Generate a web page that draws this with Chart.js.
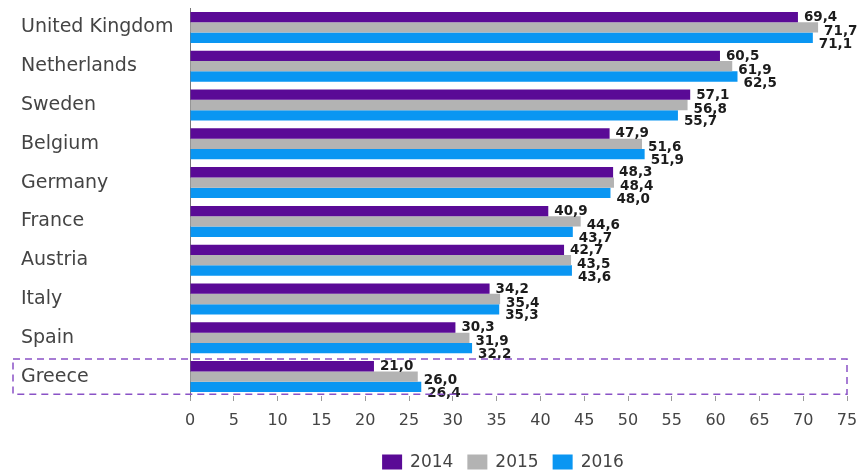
<!DOCTYPE html>
<html>
<head>
<meta charset="utf-8">
<script src="https://cdn.jsdelivr.net/npm/chart.js@4.4.1/dist/chart.umd.min.js"></script>
<style>
  html, body { margin: 0; padding: 0; background: #ffffff; }
  #wrap { width: 857px; height: 473px; position: relative; }
</style>
</head>
<body>
<div id="wrap"><canvas id="chart" width="857" height="473"></canvas></div>
<script>
// Countries, top to bottom
const categories = ['United Kingdom', 'Netherlands', 'Sweden', 'Belgium', 'Germany',
                    'France', 'Austria', 'Italy', 'Spain', 'Greece'];
// Series values per year
const values2014 = [69.4, 60.5, 57.1, 47.9, 48.3, 40.9, 42.7, 34.2, 30.3, 21.0];
const values2015 = [71.7, 61.9, 56.8, 51.6, 48.4, 44.6, 43.5, 35.4, 31.9, 26.0];
const values2016 = [71.1, 62.5, 55.7, 51.9, 48.0, 43.7, 43.6, 35.3, 32.2, 26.4];
const seriesLabels = ['2014', '2015', '2016'];
// Value axis ticks
const xTicks = [0, 5, 10, 15, 20, 25, 30, 35, 40, 45, 50, 55, 60, 65, 70, 75];
// Highlighted country
const highlighted = 'Greece';

const colors = ['#5a0a96', '#b3b3b3', '#0a96f2'];
const textColor = '#444444';
const family = '"DejaVu Sans", sans-serif';

const fmt = v => v.toFixed(1).replace('.', ',');

// Value labels next to each bar end, drifting slightly downward per series
const valueLabels = {
  id: 'valueLabels',
  afterDatasetsDraw(chart) {
    const ctx = chart.ctx;
    const drift = [0.5, 4, 6.5];
    ctx.save();
    ctx.font = 'bold 13.5px ' + family;
    ctx.fillStyle = '#1c1c1c';
    ctx.textAlign = 'left';
    ctx.textBaseline = 'middle';
    chart.data.datasets.forEach((ds, di) => {
      const meta = chart.getDatasetMeta(di);
      meta.data.forEach((bar, i) => {
        ctx.fillText(fmt(ds.data[i]), bar.x + 6, bar.y + drift[di]);
      });
    });
    ctx.restore();
  }
};

// Dashed frame around the highlighted row
const highlightBox = {
  id: 'highlightBox',
  afterDraw(chart) {
    const y = chart.scales.y;
    const idx = categories.indexOf(highlighted);
    if (idx < 0) return;
    const cy = y.getPixelForValue(idx);
    const step = Math.abs(y.getPixelForValue(1) - y.getPixelForValue(0));
    const half = step * 0.455;
    const ctx = chart.ctx;
    ctx.save();
    ctx.strokeStyle = '#8a52c6';
    ctx.lineWidth = 1.5;
    ctx.setLineDash([7, 5]);
    ctx.strokeRect(13, cy - half, chart.chartArea.right - 13, half * 2);
    ctx.restore();
  }
};

// Legend row below the axis
const bottomLegend = {
  id: 'bottomLegend',
  afterDraw(chart) {
    const ctx = chart.ctx;
    const boxW = 20, boxH = 15, gapText = 8, gapItem = 14;
    ctx.save();
    ctx.font = '17px ' + family;
    const items = chart.data.datasets.map(ds => ({
      label: ds.label, color: ds.backgroundColor, w: ctx.measureText(ds.label).width
    }));
    const total = items.reduce((s, it) => s + boxW + gapText + it.w, 0) + gapItem * (items.length - 1);
    let x = 503 - total / 2;
    const cy = 462;
    ctx.textBaseline = 'middle';
    ctx.textAlign = 'left';
    items.forEach(it => {
      ctx.fillStyle = it.color;
      ctx.fillRect(x, cy - boxH / 2, boxW, boxH);
      x += boxW + gapText;
      ctx.fillStyle = textColor;
      ctx.fillText(it.label, x, cy + 1);
      x += it.w + gapItem;
    });
    ctx.restore();
  }
};

const seriesValues = [values2014, values2015, values2016];

new Chart(document.getElementById('chart'), {
  type: 'bar',
  data: {
    labels: categories,
    datasets: seriesLabels.map((label, i) => ({
      label,
      data: seriesValues[i],
      backgroundColor: colors[i],
      borderWidth: 0,
      barPercentage: 1.0,
      categoryPercentage: 0.8
    }))
  },
  options: {
    indexAxis: 'y',
    responsive: false,
    animation: false,
    layout: { padding: { left: 21, right: 10, top: 8, bottom: 37 } },
    plugins: {
      legend: { display: false },
      tooltip: { enabled: false }
    },
    scales: {
      x: {
        min: 0,
        max: 75,
        afterBuildTicks(scale) { scale.ticks = xTicks.map(v => ({ value: v })); },
        afterFit(scale) {
          scale.height = 40;
          scale.paddingLeft = 0;
          scale.paddingRight = 0;
        },
        grid: { drawOnChartArea: false, drawTicks: true, tickLength: 5, color: '#9a9a9a' },
        border: { display: false },
        ticks: {
          color: textColor,
          font: { family, size: 16 },
          padding: 10,
          maxRotation: 0,
          autoSkip: false
        }
      },
      y: {
        afterFit(scale) {
          scale.width = 190 - 21;
          scale.paddingTop = 0;
          scale.paddingBottom = 0;
        },
        grid: { display: false },
        border: { display: true, color: '#777777', width: 1 },
        ticks: {
          color: textColor,
          crossAlign: 'far',
          padding: 0,
          font: { family, size: 19 }
        }
      }
    }
  },
  plugins: [valueLabels, highlightBox, bottomLegend]
});
</script>
</body>
</html>
